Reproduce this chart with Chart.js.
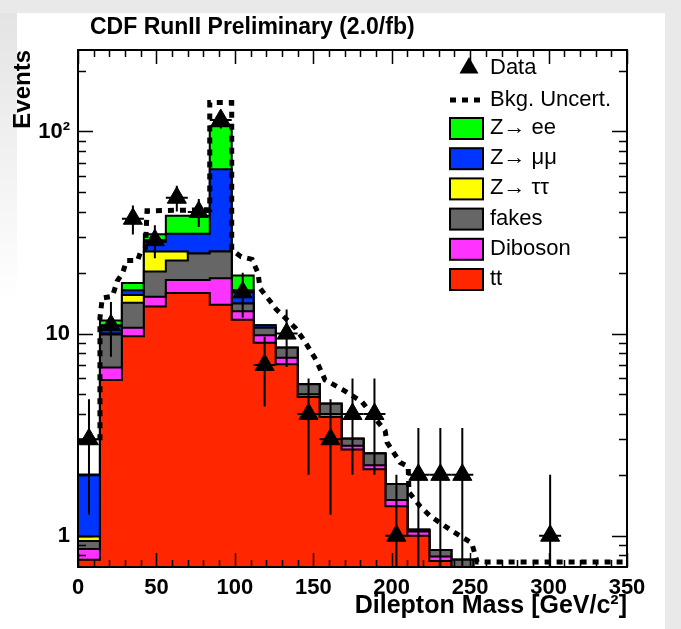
<!DOCTYPE html>
<html>
<head>
<meta charset="utf-8">
<title>Dilepton Mass</title>
<script src="https://cdn.jsdelivr.net/npm/chart.js@4.4.1/dist/chart.umd.min.js"></script>
<style>
  html, body { margin: 0; padding: 0; width: 681px; height: 629px; overflow: hidden; background: #e9e9e9; }
  #sheet { position: absolute; left: 0; top: 13px; width: 665px; height: 616px; background: #fff; }
  #shade { position: absolute; left: 0; top: 13px; width: 17px; height: 290px; background: linear-gradient(#e4e4e4, #ffffff); }
  #wrap { position: absolute; left: 0; top: 0; width: 681px; height: 629px; }
</style>
</head>
<body>
<div id="sheet"></div>
<div id="shade"></div>
<div id="wrap"><canvas id="plot"></canvas></div>
<script>
// ---- histogram binning (GeV/c^2) ----
const binLow = [0, 14, 28, 42, 56, 70, 84, 98, 112, 126, 140, 154, 168, 182, 196, 210, 224, 238, 252, 266, 280, 294, 308, 322, 336];
const binWidth = 14;
const massMax = 350;

// ---- expected events per bin, by process ----
const ttbar   = [0.76, 5.9, 9.7, 13.6, 15.9, 15.9, 13.9, 11.7, 9.0, 7.05, 4.86, 3.87, 2.67, 2.13, 1.40, 1.00, 0.75, 0.55, 0.40, 0.30, 0.22, 0.16, 0.12, 0.09, 0.07];
const diboson = [0.10, 0.9, 1.0, 1.6, 2.5, 2.5, 4.9, 1.2, 0.8, 0.55, 0.15, 0.13, 0.12, 0.10, 0.10, 0.05, 0.04, 0.08, 0.05, 0.04, 0.03, 0.02, 0.02, 0.01, 0.01];
const fakes   = [0.08, 3.1, 3.5, 5.1, 4.6, 6.5, 6.7, 1.2, 0.9, 0.9, 0.6, 0.5, 0.23, 0.32, 0.30, 0.02, 0.06, 0.13, 0.05, 0.04, 0.03, 0.02, 0.02, 0.01, 0.01];
const zTauTau = [0.05, 0.1, 1.3, 5.2, 2.5, 0, 0, 0, 0, 0, 0, 0, 0, 0, 0, 0, 0, 0, 0, 0, 0, 0, 0, 0, 0];
const zMuMu   = [1.0, 0.9, 0.9, 3.0, 5.7, 6.3, 39.5, 2.3, 0.3, 0, 0, 0, 0, 0, 0, 0, 0, 0, 0, 0, 0, 0, 0, 0, 0];
const zEE     = [0.02, 0.7, 1.4, 2.5, 7.1, 7.1, 41, 3.0, 0, 0, 0, 0, 0, 0, 0, 0, 0, 0, 0, 0, 0, 0, 0, 0, 0];

// ---- observed events per bin ----
const dataCounts = [3, 11, 37, 29, 47, 40, 114, 16, 7, 10, 4, 3, 4, 4, 1, 2, 2, 2, 0, 0, 0, 1, 0, 0, 0];

// ---- upper edge of the background uncertainty ----
const uncMass   = [0, 14, 14, 15.5, 22, 25, 28.5, 31, 38, 40, 43, 44, 84, 84, 98, 98, 104, 111, 114.8, 116, 122.4, 126.3, 138.4, 144, 151.8, 157.5, 168.4, 181, 195.8, 197, 205.4, 210.5, 211, 218, 224.5, 239, 251, 254.5, 350];
const uncEvents = [2.9, 2.9, 12, 15, 15.3, 18.2, 20, 23, 23, 25.5, 26.5, 40.5, 41, 139, 139, 26, 24, 23.3, 19.9, 16.8, 14.5, 13.2, 10.7, 9.3, 7.4, 5.9, 5.3, 4.6, 3.3, 2.9, 2.3, 2.2, 1.64, 1.4, 1.25, 1.05, 0.92, 0.74, 0.74];

// ---- axes ----
const xTickValues = [0, 50, 100, 150, 200, 250, 300, 350];
const yTickValues = [1, 10, 100];
const yTickLabels = ['1', '10', '10\u00B2'];
const yMin = 0.73, yMax = 253;

// ---- legend ----
const processLabels = ['tt', 'Diboson', 'fakes', 'Z\u2192 \u03C4\u03C4', 'Z\u2192 \u03BC\u03BC', 'Z\u2192 ee'];
const processColors = ['#ff2600', '#ff33ff', '#666666', '#ffff00', '#0035ff', '#00ff00'];
const dataLabel = 'Data';
const uncLabel = 'Bkg. Uncert.';
const headerText = 'CDF RunII Preliminary (2.0/fb)';

const FONT = "'Liberation Sans', Arial, Helvetica, sans-serif";
Chart.defaults.font.family = FONT;
Chart.defaults.color = '#000';

// running sums: each process is drawn as the top of its cumulative stack
const components = [ttbar, diboson, fakes, zTauTau, zMuMu, zEE];
let running = binLow.map(() => 0);
const cumulative = components.map(c => {
  running = running.map((v, i) => v + c[i]);
  return running.slice();
});

function stepPoints(vals) {
  const pts = binLow.map((x, i) => ({ x: x, y: vals[i] > 0 ? vals[i] : 1e-3 }));
  pts.push({ x: massMax, y: pts[pts.length - 1].y });
  return pts;
}

const stackSets = cumulative.map((vals, k) => ({
  label: processLabels[k],
  data: stepPoints(vals),
  stepped: true,
  fill: 'start',
  backgroundColor: processColors[k],
  borderColor: '#000',
  borderWidth: 2,
  pointRadius: 0,
  clip: 0
}));

const dataPoints = [];
dataCounts.forEach((n, i) => { if (n > 0) dataPoints.push({ x: binLow[i] + binWidth / 2, y: n }); });

const datasets = [
  {
    label: dataLabel,
    data: dataPoints,
    showLine: false,
    pointStyle: 'triangle',
    pointRadius: 11,
    pointBackgroundColor: '#000',
    pointBorderColor: '#000',
    pointBorderWidth: 1,
    clip: 0
  },
  {
    label: uncLabel,
    data: uncMass.map((x, i) => ({ x: x, y: uncEvents[i] })),
    borderColor: '#000',
    borderWidth: 5,
    borderDash: [6, 6],
    pointRadius: 0,
    fill: false,
    tension: 0,
    clip: false
  },
  ...stackSets
];

// header line above the frame
const header = {
  id: 'header',
  afterDraw(chart) {
    const ctx = chart.ctx;
    ctx.save();
    ctx.font = 'bold 23px ' + FONT;
    ctx.fillStyle = '#000';
    ctx.textBaseline = 'middle';
    ctx.textAlign = 'left';
    ctx.fillText(headerText, 90, 28);
    ctx.restore();
  }
};

// error bars, frame and inward tick marks
const frameAndBars = {
  id: 'frameAndBars',
  afterDatasetsDraw(chart) {
    const { ctx, chartArea: a, scales: { x, y } } = chart;
    ctx.save();
    ctx.beginPath();
    ctx.rect(a.left, a.top, a.right - a.left, a.bottom - a.top);
    ctx.clip();
    ctx.strokeStyle = '#000';
    ctx.lineWidth = 2;
    dataCounts.forEach((n, i) => {
      if (n <= 0) return;
      const err = Math.sqrt(n);
      const xc = x.getPixelForValue(binLow[i] + binWidth / 2);
      const yc = y.getPixelForValue(n);
      const yTop = y.getPixelForValue(n + err);
      const yBot = n - err > 0 ? y.getPixelForValue(n - err) : a.bottom + 5;
      ctx.beginPath();
      ctx.moveTo(xc, yTop);
      ctx.lineTo(xc, yBot);
      ctx.moveTo(x.getPixelForValue(binLow[i]), yc);
      ctx.lineTo(x.getPixelForValue(binLow[i] + binWidth), yc);
      ctx.stroke();
    });
    ctx.restore();

    ctx.save();
    ctx.strokeStyle = '#000';
    ctx.lineWidth = 2;
    ctx.strokeRect(a.left, a.top, a.right - a.left, a.bottom - a.top);
    ctx.lineWidth = 1.5;
    ctx.beginPath();
    for (let m = 0; m <= massMax; m += 10) {
      const px = Math.round(x.getPixelForValue(m)) + 0.5;
      const len = (m % 50 === 0) ? 14 : 7;
      ctx.moveTo(px, a.bottom); ctx.lineTo(px, a.bottom - len);
      ctx.moveTo(px, a.top); ctx.lineTo(px, a.top + len);
    }
    [0.1, 1, 10, 100].forEach(d => {
      for (let k = 1; k <= 9; k++) {
        const v = k * d;
        if (v < yMin || v > yMax) continue;
        const py = Math.round(y.getPixelForValue(v)) + 0.5;
        const len = k === 1 ? 15 : 8;
        ctx.moveTo(a.left, py); ctx.lineTo(a.left + len, py);
        ctx.moveTo(a.right, py); ctx.lineTo(a.right - len, py);
      }
    });
    ctx.stroke();
    ctx.restore();
  }
};

// legend box inside the frame
const legendBox = {
  id: 'legendBox',
  afterDraw(chart) {
    const { ctx, chartArea: a } = chart;
    const x0 = a.right - 177;
    const textX = a.right - 137;
    const rowY = a.top + 18;
    const step = 30.2;
    ctx.save();
    ctx.font = '22px ' + FONT;
    ctx.textBaseline = 'middle';
    ctx.textAlign = 'left';
    ctx.fillStyle = '#000';

    // data marker
    const r = 11, cx = x0 + 19, cy = rowY;
    ctx.beginPath();
    ctx.moveTo(cx, cy - r);
    ctx.lineTo(cx + r * Math.sin(Math.PI / 3), cy + r / 2);
    ctx.lineTo(cx - r * Math.sin(Math.PI / 3), cy + r / 2);
    ctx.closePath();
    ctx.fill();
    ctx.fillText(dataLabel, textX, rowY);

    // uncertainty line
    const uy = rowY + 32;
    ctx.save();
    ctx.strokeStyle = '#000';
    ctx.lineWidth = 5;
    ctx.setLineDash([6, 6]);
    ctx.beginPath();
    ctx.moveTo(x0, uy);
    ctx.lineTo(x0 + 33, uy);
    ctx.stroke();
    ctx.restore();
    ctx.fillText(uncLabel, textX, uy);

    // process boxes, top of the stack first
    for (let j = 0; j < processLabels.length; j++) {
      const k = processLabels.length - 1 - j;
      const by = uy + 28 + j * step;
      ctx.fillStyle = processColors[k];
      ctx.fillRect(x0, by - 10, 33, 21);
      ctx.strokeStyle = '#000';
      ctx.lineWidth = 2;
      ctx.strokeRect(x0, by - 10, 33, 21);
      ctx.fillStyle = '#000';
      ctx.fillText(processLabels[k], textX, by);
    }
    ctx.restore();
  }
};

new Chart(document.getElementById('plot'), {
  type: 'line',
  data: { datasets: datasets },
  options: {
    responsive: true,
    maintainAspectRatio: false,
    animation: false,
    layout: { padding: { top: 50, right: 54, left: 0, bottom: 0 } },
    plugins: { legend: { display: false }, tooltip: { enabled: false }, title: { display: false } },
    scales: {
      x: {
        type: 'linear',
        min: 0,
        max: massMax,
        afterBuildTicks: s => { s.ticks = xTickValues.map(v => ({ value: v })); },
        afterFit: s => { s.height = 62; },
        grid: { display: false, drawTicks: false },
        border: { display: false },
        ticks: { padding: 8, maxRotation: 0, font: { size: 22, weight: 'bold' }, color: '#000' },
        title: { display: true, text: 'Dilepton Mass [GeV/c\u00B2]', align: 'end', font: { size: 25, weight: 'bold' }, padding: { top: 0, bottom: 8 }, color: '#000' }
      },
      y: {
        type: 'logarithmic',
        min: yMin,
        max: yMax,
        afterBuildTicks: s => { s.ticks = yTickValues.map(v => ({ value: v })); },
        afterFit: s => { s.width = 78; },
        grid: { display: false, drawTicks: false },
        border: { display: false },
        ticks: { padding: 8, font: { size: 22, weight: 'bold' }, color: '#000',
                 callback: v => yTickLabels[yTickValues.indexOf(v)] },
        title: { display: true, text: 'Events', align: 'end', font: { size: 24, weight: 'bold' }, padding: { top: 9, bottom: 0 }, color: '#000' }
      }
    }
  },
  plugins: [header, frameAndBars, legendBox]
});
</script>
</body>
</html>
